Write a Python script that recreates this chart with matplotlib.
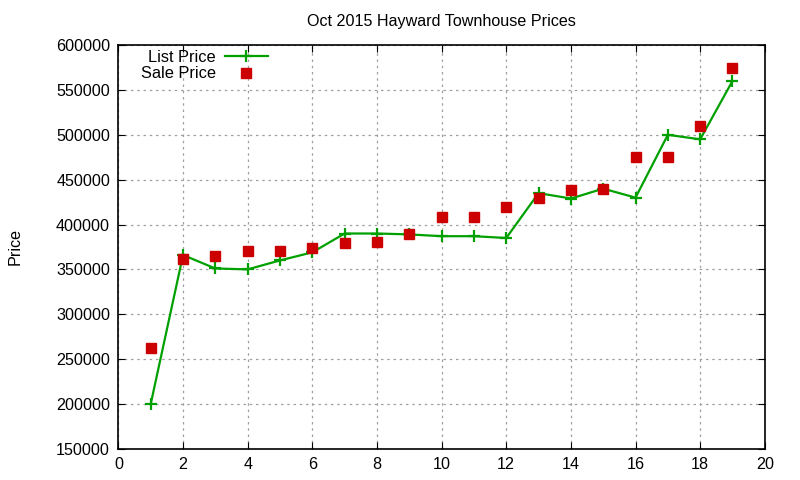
import matplotlib.pyplot as plt

plt.rcParams['font.family'] = ['Liberation Sans', 'DejaVu Sans']

listing = list(range(1, 20))
list_price = [200000, 366000, 351000, 350000, 360000, 369000, 390000, 390000, 389000,
              387000, 387000, 385000, 435000, 429000, 440000, 430000, 500000, 495000, 560000]
sale_price = [262000, 362000, 365000, 371000, 371000, 374000, 379000, 380000, 390000,
              408000, 408000, 420000, 430000, 439000, 440000, 475000, 475000, 510000, 575000]

fig = plt.figure(figsize=(8, 4.8), dpi=100)
ax = fig.add_axes([0.148, 0.065, 0.808, 0.841])

ax.plot(listing, list_price, color='#00a000', lw=1.6, marker='+', ms=9, mew=1.6,
        label='List Price')
ax.plot(listing, sale_price, ls='none', color='#cc0000', marker='s', ms=6.5,
        label='Sale Price')

ax.set_xlim(0, 20)
ax.set_ylim(150000, 600000)
ax.set_xticks(range(0, 21, 2))
ax.set_yticks(range(150000, 600001, 50000))
ax.tick_params(direction='in', top=True, right=True, labelsize=11.6, length=5, pad=6)
ax.grid(True, color='#a0a0a0', ls=(0, (2, 3)), lw=0.9)
for s in ax.spines.values():
    s.set_linewidth(1.2)

ax.set_title('Oct 2015 Hayward Townhouse Prices', fontsize=11.6, pad=14)
ax.set_ylabel('Price', fontsize=11.6, labelpad=24)

ax.legend(loc='upper left', bbox_to_anchor=(0.035, 0.988), frameon=False, markerfirst=False,
          fontsize=11.8, handlelength=2.6, labelspacing=0.08, borderaxespad=0.0,
          borderpad=0.0, handletextpad=0.55)

fig.savefig('out.png')
